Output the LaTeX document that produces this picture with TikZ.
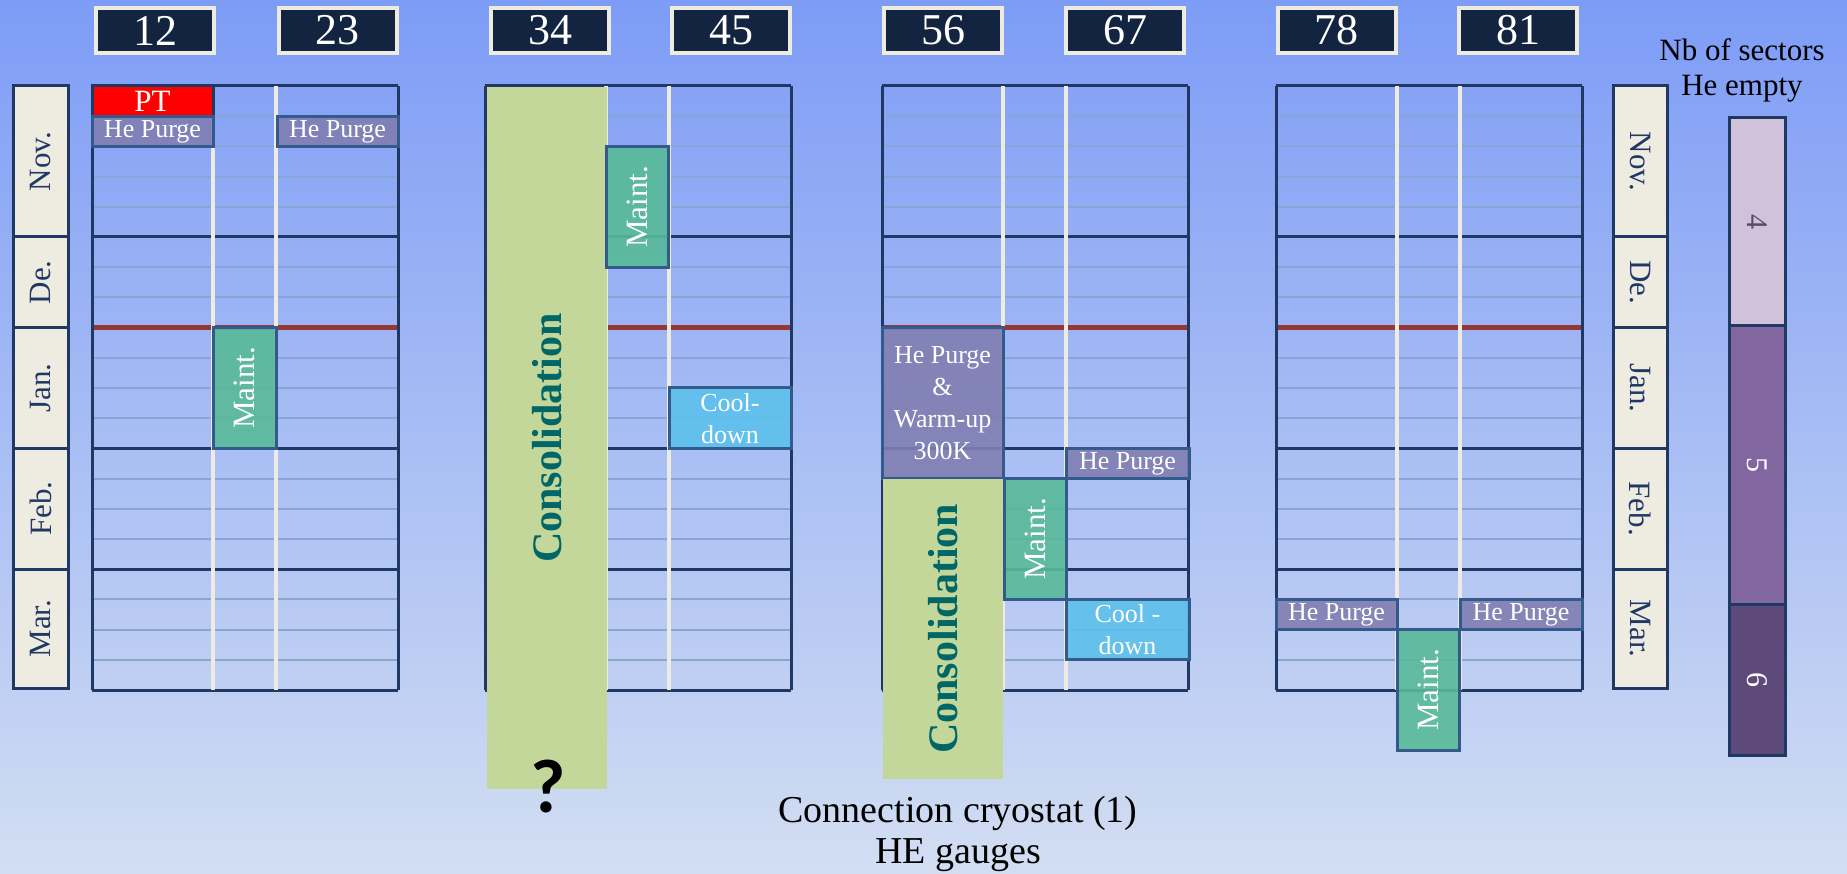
\documentclass[tikz,border=0pt]{standalone}
\usepackage{fontspec}
\setmainfont{Liberation Serif}
\newfontfamily\qfont{Carlito}
\usepackage{tikz}
\usepackage{xcolor}
\definecolor{ColBgTop}{RGB}{125,156,246}
\definecolor{ColBgBot}{RGB}{210,222,242}
\definecolor{ColNavy}{RGB}{31,56,100}
\definecolor{ColHead}{RGB}{18,36,64}
\definecolor{ColCream}{RGB}{238,236,225}
\definecolor{ColWeek}{RGB}{138,165,212}
\definecolor{ColRed}{RGB}{149,55,53}
\definecolor{ColPurge}{RGB}{128,126,178}
\definecolor{ColMaint}{RGB}{88,186,152}
\definecolor{ColCool}{RGB}{92,192,236}
\definecolor{ColPT}{RGB}{255,0,0}
\definecolor{ColBorder}{RGB}{52,90,140}
\definecolor{ColConsol}{RGB}{196,215,155}
\definecolor{ColConsText}{RGB}{0,102,102}
\definecolor{ColSecA}{RGB}{208,194,218}
\definecolor{ColSecB}{RGB}{130,102,160}
\definecolor{ColSecC}{RGB}{94,74,122}
\definecolor{ColSecText}{RGB}{90,75,110}
\tikzstyle{WeekLine}=[ColWeek,line width=2pt]
\tikzstyle{MonthLine}=[ColNavy,line width=3pt]
\tikzstyle{RedLine}=[ColRed,line width=5pt]
\tikzstyle{SepLine}=[ColCream,line width=3.5pt]
\tikzstyle{EdgeLine}=[ColNavy,line width=3pt]
\tikzstyle{HeadBox}=[draw=ColCream,line width=4pt,fill=ColHead,text=white,inner sep=0pt,
minimum width=118pt,minimum height=45pt,font=\fontsize{44}{44}\selectfont]
\tikzstyle{MonthBox}=[draw=ColNavy,line width=3pt,fill=ColCream,text=ColNavy,inner sep=0pt,
font=\fontsize{31}{31}\selectfont]
\tikzstyle{TaskBox}=[draw=ColBorder,line width=3pt,fill opacity=.9,text opacity=1,text=white,
inner sep=0pt,align=center]
\tikzstyle{PurgeBox}=[TaskBox,fill=ColPurge,font=\fontsize{26}{32}\selectfont]
\tikzstyle{MaintBox}=[TaskBox,fill=ColMaint,font=\fontsize{31}{31}\selectfont]
\tikzstyle{CoolBox}=[TaskBox,fill=ColCool,font=\fontsize{26}{32}\selectfont]
\tikzstyle{PTBox}=[TaskBox,fill=ColPT,fill opacity=1,draw=ColNavy,font=\fontsize{31}{31}\selectfont]
\tikzstyle{ConsolBox}=[fill=ColConsol,text=ColConsText,inner sep=0pt,
font=\fontsize{42}{42}\selectfont\bfseries]
\tikzstyle{SecBox}=[draw=ColNavy,line width=3pt,inner sep=0pt,minimum height=56pt,
font=\fontsize{30}{30}\selectfont]

\begin{document}
\begin{tikzpicture}[x=1pt,y=-1pt]
\useasboundingbox(0,0)rectangle(1847,874);
\shade[top color=ColBgTop,bottom color=ColBgBot](0,0)rectangle(1847,874);
% grids of the four arcs
\foreach \g in {92,485,882,1276}{
  \foreach \k in {1,2,3,4,6,7,9,10,11,13,14,15,17,18,19}
    \draw[WeekLine](\g,86+30.2*\k)--(\g+306,86+30.2*\k);
  \foreach \k in {0,5,12,16,20}
    \draw[MonthLine](\g,86+30.2*\k)--(\g+306,86+30.2*\k);
  \draw[RedLine](\g,327.6)--(\g+306,327.6);
  \draw[SepLine](\g+121,86)--(\g+121,690);
  \draw[SepLine](\g+184,86)--(\g+184,690);
  \draw[EdgeLine](\g,86)--(\g,690);
  \draw[EdgeLine](\g+306,86)--(\g+306,690);
}
% sector headers
\node[HeadBox](s12)at(155,30.5){12};
\node[HeadBox](s23)at(337.5,30.5){23};
\node[HeadBox](s34)at(550,30.5){34};
\node[HeadBox](s45)at(731,30.5){45};
\node[HeadBox](s56)at(943,30.5){56};
\node[HeadBox](s67)at(1125,30.5){67};
\node[HeadBox](s78)at(1336.5,30.5){78};
\node[HeadBox](s81)at(1518,30.5){81};
% months
\node[MonthBox,rotate=90,minimum width=151pt,minimum height=55pt](novL)at(40.5,161.5){Nov.};
\node[MonthBox,rotate=90,minimum width=90.6pt,minimum height=55pt](deL)at(40.5,282.3){De.};
\node[MonthBox,rotate=90,minimum width=120.8pt,minimum height=55pt](janL)at(40.5,388){Jan.};
\node[MonthBox,rotate=90,minimum width=120.8pt,minimum height=55pt](febL)at(40.5,508.8){Feb.};
\node[MonthBox,rotate=90,minimum width=118.8pt,minimum height=55pt](marL)at(40.5,628.6){Mar.};
\node[MonthBox,rotate=-90,minimum width=151pt,minimum height=54pt](novR)at(1640.5,161.5){Nov.};
\node[MonthBox,rotate=-90,minimum width=90.6pt,minimum height=54pt](deR)at(1640.5,282.3){De.};
\node[MonthBox,rotate=-90,minimum width=120.8pt,minimum height=54pt](janR)at(1640.5,388){Jan.};
\node[MonthBox,rotate=-90,minimum width=120.8pt,minimum height=54pt](febR)at(1640.5,508.8){Feb.};
\node[MonthBox,rotate=-90,minimum width=118.8pt,minimum height=54pt](marR)at(1640.5,628.6){Mar.};
% arc 12-23
\node[PTBox,minimum width=121pt,minimum height=30.2pt](ptA)at(152.5,101.1){PT};
\node[PurgeBox,minimum width=121pt,minimum height=30.2pt](hpA)at(152.5,131.3){He Purge};
\node[PurgeBox,minimum width=121pt,minimum height=30.2pt](hpAb)at(337.5,131.3){He Purge};
\node[MaintBox,rotate=90,minimum width=120.8pt,minimum height=63pt](mtA)at(244.5,388){Maint.};
% arc 34-45
\node[ConsolBox,rotate=90,minimum width=702pt,minimum height=120pt](conB)at(547,438){Consolidation};
\node[MaintBox,rotate=90,minimum width=120.8pt,minimum height=62pt](mtB)at(637.5,206.8){Maint.};
\node[CoolBox,minimum width=122pt,minimum height=60.4pt](cdB)at(730,418.2){Cool-\\down};
\node[font=\qfont\bfseries\fontsize{76}{76}\selectfont,inner sep=0pt](qB)at(548,787){?};
% arc 56-67
\node[PurgeBox,minimum width=121pt,minimum height=151pt](hwC)at(942.5,403.1){He Purge\\\&\\Warm-up\\300K};
\node[ConsolBox,rotate=90,minimum width=300.4pt,minimum height=120pt](conC)at(943,628.8){Consolidation};
\node[MaintBox,rotate=90,minimum width=120.8pt,minimum height=62pt](mtC)at(1035,539){Maint.};
\node[PurgeBox,minimum width=123pt,minimum height=30.2pt](hpC)at(1127.5,463.5){He Purge};
\node[CoolBox,minimum width=123pt,minimum height=60.4pt](cdC)at(1127.5,629.6){Cool -\\down};
% arc 78-81
\node[PurgeBox,minimum width=121pt,minimum height=30.2pt](hpD)at(1336.5,614.5){He Purge};
\node[PurgeBox,minimum width=122pt,minimum height=30.2pt](hpDb)at(1521,614.5){He Purge};
\node[MaintBox,rotate=90,minimum width=120.8pt,minimum height=62pt](mtD)at(1428,690){Maint.};
% sectors with He empty
\node[align=center,font=\fontsize{31}{35}\selectfont](nbT)at(1742,70){Nb of sectors\\He empty};
\node[SecBox,rotate=-90,fill=ColSecA,text=ColSecText,minimum width=208pt](sec4)at(1757,222){4};
\node[SecBox,rotate=-90,fill=ColSecB,text=white,minimum width=278pt](sec5)at(1757,465){5};
\node[SecBox,rotate=-90,fill=ColSecC,text=white,minimum width=151pt](sec6)at(1757,679.5){6};
% note
\node[align=center,font=\fontsize{38}{41}\selectfont](noteC)at(958,834){Connection cryostat (1)\\HE gauges};
\end{tikzpicture}
\end{document}
